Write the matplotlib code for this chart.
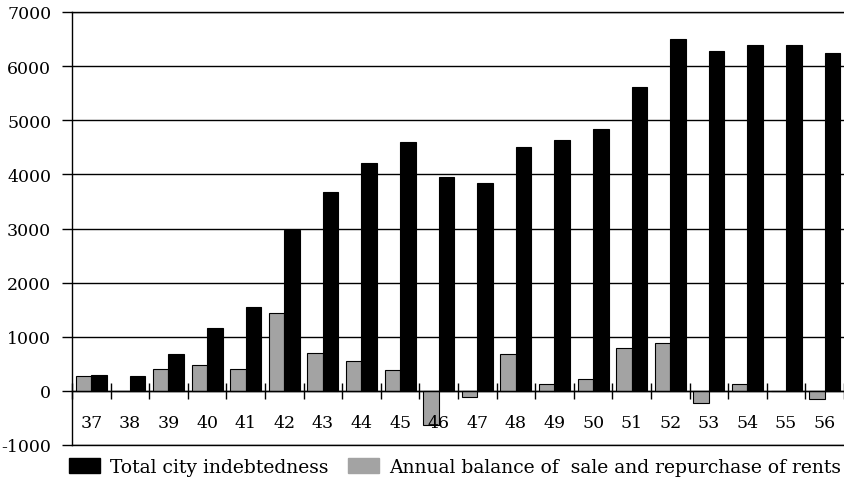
import matplotlib
matplotlib.use("Agg")
import matplotlib.pyplot as plt
import numpy as np
from matplotlib.patches import Patch

years = ["37", "38", "39", "40", "41", "42", "43", "44", "45", "46",
         "47", "48", "49", "50", "51", "52", "53", "54", "55", "56"]
total_debt = [290, 280, 673, 1154, 1554, 2975, 3670, 4218, 4594, 3947,
              3836, 4514, 4637, 4835, 5612, 6500, 6278, 6389, 6389, 6241]
annual_balance = [280, 0, 400, 481, 400, 1432, 703, 549, 377, -635,
                  -111, 679, 124, 211, 784, 882, -228, 124, 0, -148]
yticks = list(range(-1000, 7001, 1000))

plt.rcParams['font.family'] = ['DejaVu Serif']
plt.rcParams['font.size'] = 12.5

fig = plt.figure(figsize=(8.45, 4.85), dpi=100)
ax = fig.add_axes([72/845, 1-446/485, (844-72)/845, (446-13)/485])

n = len(years)
x = np.arange(n)
grey = '#a3a3a3'
ax.bar(x - 0.2, annual_balance, width=0.4, color=grey, edgecolor='black', linewidth=0.8, zorder=1)
ax.bar(x + 0.2, total_debt, width=0.4, color='black', edgecolor='black', linewidth=0.8, zorder=1)

ax.set_xlim(-0.5, n - 0.5)
ax.set_ylim(-1000, 7000)
ax.set_yticks(yticks)
ax.set_yticklabels([str(v) for v in yticks])
ax.yaxis.grid(True, color='black', linewidth=1.0)
ax.set_axisbelow(True)
for yv in (yticks[0], yticks[-1]):
    ax.axhline(yv, color='black', linewidth=1.0, clip_on=False, zorder=0.6)

ax.spines['top'].set_visible(False)
ax.spines['right'].set_visible(False)
ax.spines['left'].set_linewidth(1.0)
ax.spines['bottom'].set_position(('data', 0))
ax.spines['bottom'].set_linewidth(1.0)
ax.spines['bottom'].set_zorder(4)

ax.set_xticks(np.arange(n + 1) - 0.5)
ax.set_xticklabels([])
ax.tick_params(axis='x', which='major', direction='inout', length=12, width=1.0, color='black')
ax.set_xticks(x, minor=True)
ax.set_xticklabels(years, minor=True)
ax.tick_params(axis='x', which='minor', length=0, pad=17, labelsize=12.5)
ax.tick_params(axis='y', direction='out', length=7, width=1.0, pad=8, labelsize=12.5)
ax.xaxis.set_zorder(5)

handles = [Patch(facecolor='black', edgecolor='black', label='Total city indebtedness'),
           Patch(facecolor=grey, edgecolor=grey, label='Annual balance of  sale and repurchase of rents')]
fig.legend(handles=handles, loc='center', bbox_to_anchor=(455/845, 1-468/485), ncol=2,
           frameon=False, handlelength=1.65, handleheight=0.85, handletextpad=0.55,
           columnspacing=1.0, fontsize=13.5, borderpad=0, borderaxespad=0)

fig.savefig('out.png', dpi=100)
